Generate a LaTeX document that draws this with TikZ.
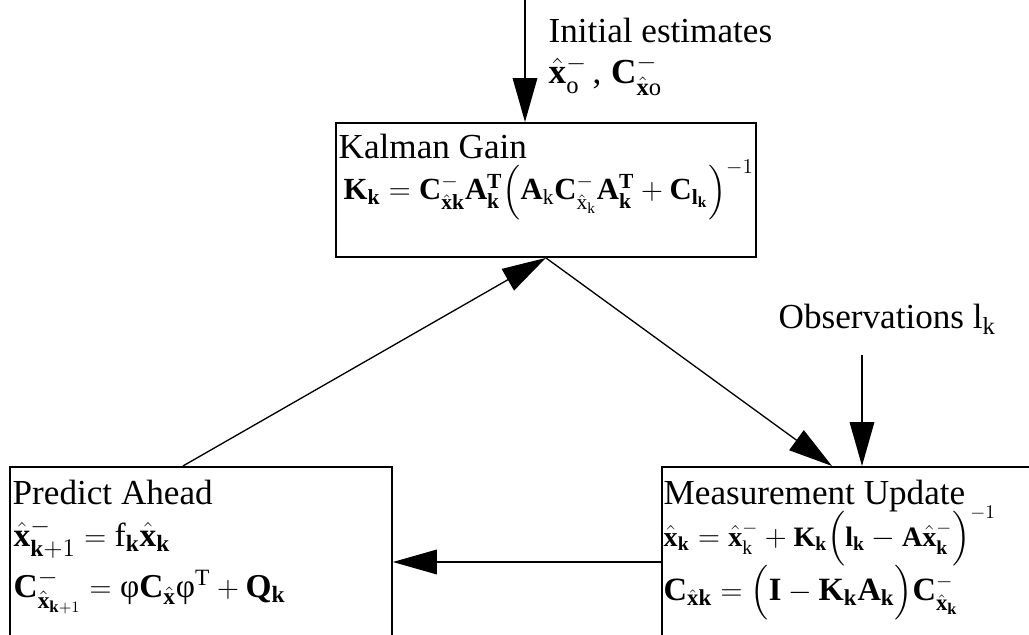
\documentclass[tikz,border=0pt]{standalone}
\usepackage{amsmath}
\usepackage{fontspec}
\setmainfont{Liberation Serif}
\setmathrm{Liberation Serif}
\usetikzlibrary{arrows.meta,calc}

\newcommand\xchap{\hat{\mathbf{x}}}
\newcommand\kb{\mathbf{k}}
\newcommand\taille[1]{\fontsize{#1}{#1}\selectfont}

\tikzset{
  boite/.style={draw, line width=1.1pt, rectangle, inner sep=0pt, anchor=north west},
  texte/.style={inner sep=0pt, anchor=base west, font=\taille{20}},
  fleche/.style={line width=0.75pt, -{Triangle[length=25pt,width=14pt]}},
}

\begin{document}
\begin{tikzpicture}[x=0.02cm, y=-0.02cm, thick]
    \useasboundingbox (0,0) rectangle (1029,635);
    \clip (0,0) rectangle (1029,635);
    % boites
    \node[boite, minimum width=8.4cm, minimum height=2.68cm] (kalman) at (335,122) {};
    \node[boite, minimum width=7.64cm, minimum height=5cm] (predict) at (9,466) {};
    \node[boite, minimum width=9cm, minimum height=5cm] (meas) at (661,466) {};
    % gain de Kalman
    \node[texte] (kgtitre) at ($(kalman.north west)+(3,37)$) {Kalman Gain};
    \node[texte, font=\taille{17.5}] (kgeq) at ($(kalman.north west)+(8,78)$)
      {$\mathbf{K}_{\kb} = \mathbf{C}^{-}_{\xchap\kb}\mathbf{A}^{\mathbf{T}}_{\kb}\Bigl(\mathbf{A}_{\mathrm{k}}\mathbf{C}^{-}_{\hat{\mathrm{x}}_{\mathrm{k}}}\mathbf{A}^{\mathbf{T}}_{\kb}+\mathbf{C}_{\mathbf{l}_{\kb}}\Bigr)^{-1}$};
    % prediction
    \node[texte] (prtitre) at ($(predict.north west)+(3,38)$) {Predict Ahead};
    \node[texte, font=\taille{19}] (preq1) at ($(predict.north west)+(4,80)$)
      {$\xchap^{-}_{\kb+1} = \mathrm{f}_{\kb}\xchap_{\kb}$};
    \node[texte, font=\taille{19}] (preq2) at ($(predict.north west)+(4,131)$)
      {$\mathbf{C}^{-}_{\xchap_{\kb+1}} = \text{φ}\mathbf{C}_{\xchap}\text{φ}^{\mathrm{T}} + \mathbf{Q}_{\kb}$};
    % mise a jour
    \node[texte] (mstitre) at ($(meas.north west)+(2,38)$) {Measurement Update};
    \node[texte, font=\taille{16}] (mseq1) at ($(meas.north west)+(2,80)$)
      {$\xchap_{\kb} = \xchap^{-}_{\mathrm{k}} + \mathbf{K}_{\kb}\Bigl(\mathbf{l}_{\kb} - \mathbf{A}\xchap^{-}_{\kb}\Bigr)^{-1}$};
    \node[texte, font=\taille{18.5}] (mseq2) at ($(meas.north west)+(2,134)$)
      {$\mathbf{C}_{\xchap\kb} = \Bigl(\mathbf{I} - \mathbf{K}_{\kb}\mathbf{A}_{\kb}\Bigr)\mathbf{C}^{-}_{\xchap_{\kb}}$};
    % entrees
    \node[texte] (initlbl) at (548,43) {Initial estimates};
    \node[texte] (initeq) at (548,84) {$\xchap^{-}_{\mathrm{o}}$\,,\;$\mathbf{C}^{-}_{\xchap\mathrm{o}}$};
    \node[texte] (obslbl) at (778,329) {Observations $\mathrm{l}_{\mathrm{k}}$};
    % fleches
    \coordinate (init) at (525,0);
    \draw[fleche] (init) -- (init |- kalman.north);
    \draw[fleche] ($(predict.north)+(-18,0)$) -- (kalman.south);
    \draw[fleche] (kalman.south) -- ($(meas.north west)+(171,0)$);
    \coordinate (obs) at (862,355);
    \draw[fleche] (obs) -- (obs |- meas.north);
    \draw[fleche] ($(meas.north west)+(0,96)$) -- ($(predict.north east)+(0,96)$);
\end{tikzpicture}
\end{document}
